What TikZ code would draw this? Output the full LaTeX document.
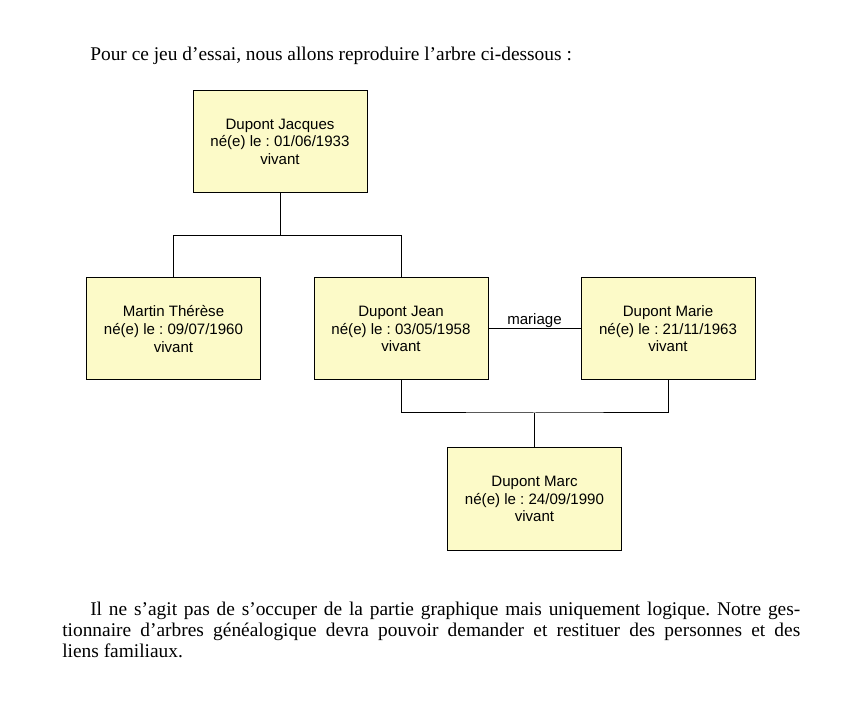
\documentclass[tikz,border=0pt]{standalone}
\usepackage{fontspec}
\setmainfont{Liberation Serif}
\newfontfamily\boxfont{Liberation Sans}
\definecolor{boxfill}{RGB}{252,250,200}
\frenchspacing
\begin{document}
\begin{tikzpicture}[x=0.75pt,y=-0.75pt,
  person/.style={draw=black,fill=boxfill,line width=0.75pt,minimum width=130.5pt,minimum height=76.5pt,inner sep=0pt,align=center,font=\boxfont\fontsize{11.3}{13.2}\selectfont},
  link/.style={draw=black,line width=0.75pt},
  linklabel/.style={midway,anchor=base,inner sep=0pt,yshift=3pt,font=\boxfont\fontsize{11.3}{13.2}\selectfont},
  prose/.style={anchor=base west,inner sep=0pt,font=\frenchspacing\fontsize{14.55}{18}\selectfont}]
\useasboundingbox (0,0) rectangle (842,705);
\node[prose] (intro) at (90,60.5) {Pour ce jeu d’essai, nous allons reproduire l’arbre ci-dessous :};
\node[person] (J) at (280,141.5) {Dupont Jacques\\né(e) le : 01/06/1933\\vivant};
\node[person] (T) at (173.5,329) {Martin Thérèse\\né(e) le : 09/07/1960\\vivant};
\node[person] (Jn) at (401,329) {Dupont Jean\\né(e) le : 03/05/1958\\vivant};
\node[person] (M) at (668,329) {Dupont Marie\\né(e) le : 21/11/1963\\vivant};
\node[person] (Mc) at (534.5,499) {Dupont Marc\\né(e) le : 24/09/1990\\vivant};
\coordinate (jbar) at (280,236);
\coordinate (cbar) at (534.5,413);
\draw[link] (J.south) -- (jbar) -| (T.north);
\draw[link] (jbar) -| (Jn.north);
\draw[link] (Jn.east) -- node[linklabel] (mar) {mariage} (M.west);
\draw[link] (Jn.south) |- (cbar) -| (M.south);
\draw[link] (cbar) -- (Mc.north);
\node[prose] (p1) at (90,615) {\makebox[532.5pt][s]{Il ne s’agit pas de s’occuper de la partie graphique mais uniquement logique. Notre ges-}};
\node[prose] (p2) at (62,636) {\makebox[553.5pt][s]{tionnaire d’arbres généalogique devra pouvoir demander et restituer des personnes et des}};
\node[prose] (p3) at (62,657) {liens familiaux.};
\end{tikzpicture}
\end{document}
